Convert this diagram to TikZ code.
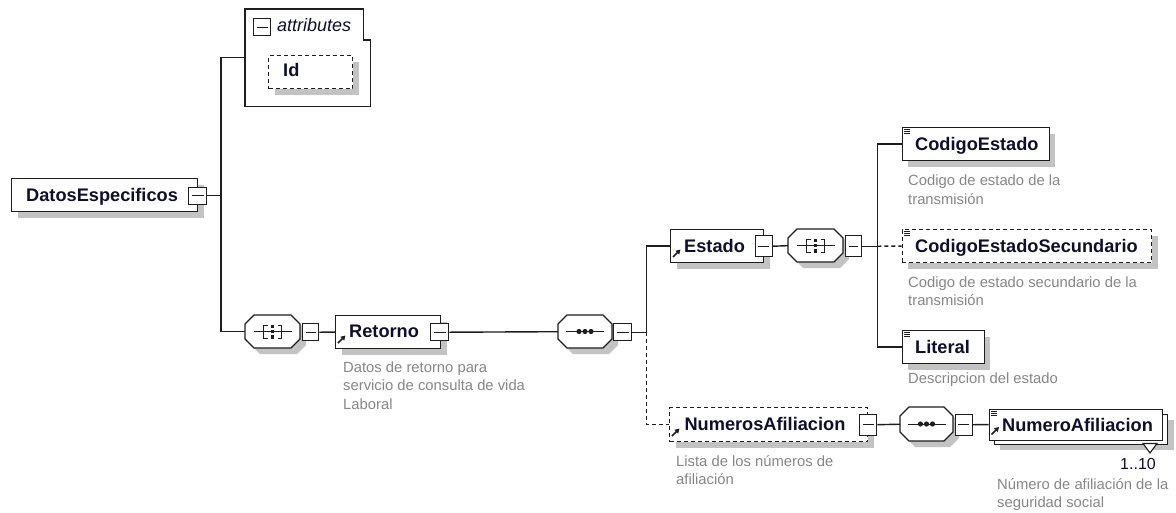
\documentclass[tikz,border=0pt]{standalone}
\usepackage{fontspec}
\setmainfont{Liberation Sans}
\usetikzlibrary{arrows.meta,calc,shadows}
\definecolor{inkcol}{RGB}{15,15,45}
\definecolor{desccol}{RGB}{135,135,135}
\definecolor{shadowgray}{RGB}{195,195,195}
\definecolor{linecol}{RGB}{30,30,30}
\tikzset{
  elem/.style={draw=linecol, line width=1.3pt, fill=white, inner sep=0pt, anchor=north west,
    general shadow={fill=shadowgray, draw=none, shadow xshift=6pt, shadow yshift=-6pt}},
  optional/.style={dash pattern=on 4pt off 3pt},
  minusbox/.style={draw=linecol, line width=1.4pt, fill=white, inner sep=0pt, anchor=north west,
    path picture={\draw[line width=1.1pt, linecol] ([xshift=3pt]path picture bounding box.west) -- ([xshift=-3pt]path picture bounding box.east);}},
  link/.style={draw=linecol, line width=1.4pt},
  eltext/.style={font=\fontsize{18.2}{20}\selectfont\bfseries, text=inkcol, inner sep=0pt, anchor=base west},
  desctext/.style={font=\fontsize{14.8}{18.5}\selectfont, text=desccol, inner sep=0pt, anchor=base west, align=left},
  holder/.style={draw=none, inner sep=0pt, anchor=north west},
  icon/.style={draw=linecol, line width=1pt},
}
\newcommand\xsoct[5]{%
  \fill[shadowgray] (#2+15,#3+6) -- (#4-3,#3+6) -- (#4+6,#3+15) -- (#4+6,#5-3) -- (#4-3,#5+6) -- (#2+15,#5+6) -- (#2+6,#5-3) -- (#2+6,#3+15) -- cycle;
  \filldraw[fill=white, draw=linecol, line width=1.3pt] (#2+9,#3) -- (#4-9,#3) -- (#4,#3+9) -- (#4,#5-9) -- (#4-9,#5) -- (#2+9,#5) -- (#2,#5-9) -- (#2,#3+9) -- cycle;
  \node[holder, minimum width=#4-#2, minimum height=#5-#3] (#1) at (#2,#3) {};}
\newcommand\xschoice[2]{%
  \draw[icon] (#1-19,#2) -- (#1+19,#2);
  \draw[icon] (#1-5,#2-6.5) -- (#1-9,#2-6.5) -- (#1-9,#2+6.5) -- (#1-5,#2+6.5);
  \draw[icon] (#1+5,#2-6.5) -- (#1+9,#2-6.5) -- (#1+9,#2+6.5) -- (#1+5,#2+6.5);
  \fill[linecol] (#1-1.8,#2-7) rectangle (#1+1.8,#2-3.6);
  \fill[linecol] (#1-1.8,#2-1.7) rectangle (#1+1.8,#2+1.7);
  \fill[linecol] (#1-1.8,#2+3.6) rectangle (#1+1.8,#2+7);}
\newcommand\xsseq[2]{%
  \draw[icon] (#1-19,#2) -- (#1+19,#2);
  \fill[linecol] (#1-6,#2) circle (2.6) (#1,#2) circle (2.6) (#1+6,#2) circle (2.6);}
\newcommand\xsref[2]{% x1, y2 of box
  \draw[line width=1.6pt, linecol, -{Triangle[length=4.5pt,width=5pt]}] (#1+3,#2-5) -- (#1+10.5,#2-12.5);}
\newcommand\xssimple[2]{% x1, y1 of box
  \draw[line width=0.7pt, linecol] (#1+2.5,#2+2.5) -- ++(6,0) (#1+2.5,#2+4.5) -- ++(6,0) (#1+2.5,#2+6.5) -- ++(6,0);}
\begin{document}
\begin{tikzpicture}[x=1pt,y=-1pt]
\fill[white] (0,0) rectangle (1176,512);
\useasboundingbox (0,0) rectangle (1176,512);

% root
\node[elem, minimum width=186, minimum height=33] (de) at (11,178) {};
\node[eltext] (detx) at (26,201.7) {DatosEspecificos};
\node[minusbox, minimum width=18, minimum height=17] (dem) at (188,186.5) {};

% attributes
\node[holder, minimum width=125, minimum height=97] (attr) at (245,9) {};
\draw[line width=1.3pt, linecol, fill=white] (attr.north west) -- ([xshift=-7pt]attr.north east) -- ([xshift=-7pt,yshift=-31pt]attr.north east) -- ([yshift=-31pt]attr.north east) -- (attr.south east) -- (attr.south west) -- cycle;
\node[minusbox, minimum width=17, minimum height=17] (attrm) at (253,18) {};
\node[font=\fontsize{18}{20}\selectfont\itshape, text=inkcol, inner sep=0pt, anchor=base west] (attrtx) at (277,31.7) {attributes};
\node[elem, optional, minimum width=84, minimum height=33] (id) at (268,55) {};
\node[eltext] (idtx) at (283,76.7) {Id};

% retorno row
\xsoct{ch1}{245}{315}{300}{348}
\xschoice{272.5}{331.5}
\node[minusbox, minimum width=16, minimum height=17] (ch1m) at (302,323) {};
\node[elem, minimum width=105, minimum height=33] (ret) at (335,315) {};
\xsref{335}{348}
\node[eltext] (rettx) at (349,337.8) {Retorno};
\node[minusbox, minimum width=18, minimum height=17] (retm) at (430,323) {};
\node[desctext] (retds) at (343,409) {Datos de retorno para\\servicio de consulta de vida\\Laboral};
\xsoct{sq1}{558}{315}{612}{348}
\xsseq{585}{331.5}
\node[minusbox, minimum width=18, minimum height=17] (sq1m) at (613,323) {};

% estado row
\node[elem, minimum width=93, minimum height=33] (est) at (670,229) {};
\xsref{670}{262}
\node[eltext] (esttx) at (684,252) {Estado};
\node[minusbox, minimum width=17, minimum height=21] (estm) at (754.5,235) {};
\xsoct{ch2}{788}{229}{843}{262}
\xschoice{815.5}{245.5}
\node[minusbox, minimum width=15.5, minimum height=21] (ch2m) at (845,235) {};

% children of estado
\node[elem, minimum width=147, minimum height=33] (ce) at (901.5,127) {};
\xssimple{901.5}{127}
\node[eltext] (cetx) at (915,150) {CodigoEstado};
\node[desctext] (ceds) at (908,204) {Codigo de estado de la\\transmisión};

\node[elem, optional, minimum width=249.5, minimum height=33] (ces) at (901.5,229) {};
\xssimple{901.5}{229}
\node[eltext] (cestx) at (915,252) {CodigoEstadoSecundario};
\node[desctext] (cesds) at (908,305.5) {Codigo de estado secundario de la\\transmisión};

\node[elem, minimum width=82, minimum height=33] (lit) at (901.5,330) {};
\xssimple{901.5}{330}
\node[eltext] (littx) at (915,353) {Literal};
\node[desctext] (litds) at (908,383) {Descripcion del estado};

% numeros afiliacion row
\node[elem, optional, minimum width=198, minimum height=34] (nums) at (669,407) {};
\xsref{669}{441}
\node[eltext] (numstx) at (684.4,430.5) {NumerosAfiliacion};
\node[minusbox, minimum width=17, minimum height=21] (numsm) at (859,413.5) {};
\node[desctext] (numsds) at (676,484.5) {Lista de los números de\\afiliación};
\xsoct{sq2}{900}{407}{953}{441}
\xsseq{926.5}{424}
\node[minusbox, minimum width=17, minimum height=21] (sq2m) at (954.5,413.5) {};

\node[elem, minimum width=173.5, minimum height=30] (naback) at (993.5,413.5) {};
\filldraw[fill=white, draw=linecol, line width=1.1pt] (1143,443.5) -- (1157,443.5) -- (1150,453) -- cycle;
\node[draw=linecol, line width=1.3pt, fill=white, inner sep=0pt, anchor=north west, minimum width=173.5, minimum height=31] (na) at (988.5,408.5) {};
\xssimple{988.5}{408.5}
\xsref{988.5}{439.5}
\node[eltext] (natx) at (1002,431) {NumeroAfiliacion};
\node[font=\fontsize{16}{18}\selectfont, text=inkcol, inner sep=0pt, anchor=base east] (naocc) at (1156,469.5) {1..10};
\node[desctext] (nads) at (997,507.5) {Número de afiliación de la\\seguridad social};

% connectors
\draw[link] (dem.east) -- ++(15,0) coordinate (j0);
\draw[link] (attr.west) -- ++(-24,0) |- (ch1.west);
\draw[link] (ch1m.east) -- (ret.west);
\draw[link] (retm.east) -- (sq1.west);
\draw[link] (sq1m.east) -- ++(14,0) coordinate (j1);
\draw[link] (j1) |- (est.west);
\draw[link, optional] (j1) |- (nums.west);
\draw[link] (estm.east) -- (ch2.west);
\draw[link] (ch2m.east) -- ++(15.5,0) coordinate (j2);
\draw[link] (j2) |- (ce.west);
\draw[link] (j2) |- (lit.west);
\draw[link, optional] (j2) -- (ces.west);
\draw[link] (numsm.east) -- (sq2.west);
\draw[link] (sq2m.east) -- (na.west);
\end{tikzpicture}
\end{document}
